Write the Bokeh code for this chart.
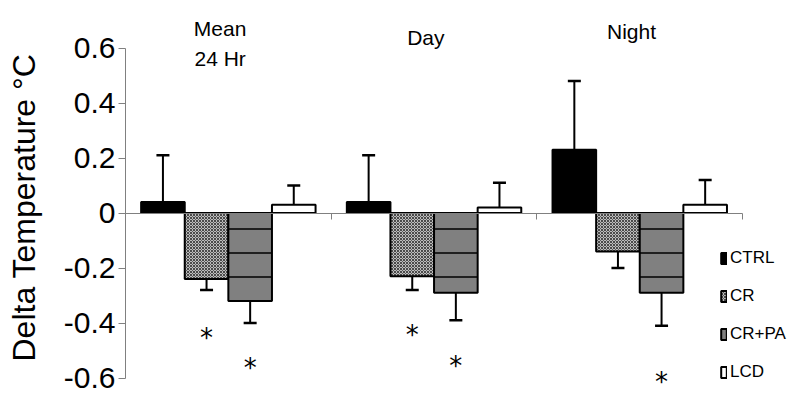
import math
from bokeh.plotting import figure
from bokeh.models import (Range1d, FixedTicker, Legend, LegendItem, Label,
                          LabelSet, ColumnDataSource)
from bokeh.core.properties import value
from bokeh.embed import file_html
from bokeh.resources import INLINE

# ---------------- data ----------------
groups = ["Mean\n24 Hr", "Day", "Night"]
series = ["CTRL", "CR", "CR+PA", "LCD"]
ctrl = [0.04, 0.04, 0.23]
ctrl_err = [0.17, 0.17, 0.25]
cr = [-0.24, -0.23, -0.14]
cr_err = [0.04, 0.05, 0.06]
crpa = [-0.32, -0.29, -0.29]
crpa_err = [0.08, 0.10, 0.12]
lcd = [0.03, 0.02, 0.03]
lcd_err = [0.07, 0.09, 0.09]
# significance markers: group index, series index, vertical position
sig_group = [0, 0, 1, 1, 2]
sig_series = [1, 2, 1, 2, 2]
sig_y = [-0.455, -0.565, -0.445, -0.555, -0.615]
y_ticks = [-0.6, -0.4, -0.2, 0, 0.2, 0.4, 0.6]
y_tick_labels = ["-0.6", "-0.4", "-0.2", "0", "0.2", "0.4", "0.6"]
y_title = "Delta Temperature \u00b0C"

FONT = "Liberation Sans"
W, H = 789, 401
X0_PX, XU = 125.0, 205.7      # screen x of value 0, px per category
Y0_PX, YU = 212.5, 275.0      # screen y of value 0, px per unit

p = figure(width=W, height=H,
           x_range=Range1d(-X0_PX / XU, (W - X0_PX) / XU),
           y_range=Range1d(-(H - Y0_PX) / YU, Y0_PX / YU),
           output_backend="svg", toolbar_location=None, min_border=0)
p.grid.visible = False
p.outline_line_color = None

# y axis at x = 0
ya = p.yaxis[0]
ya.fixed_location = 0
ya.bounds = (y_ticks[0], y_ticks[-1])
ya.ticker = FixedTicker(ticks=y_ticks)
ya.major_label_overrides = {t: l for t, l in zip(y_ticks, y_tick_labels)}
ya.axis_line_color = "#808080"
ya.major_tick_line_color = "#808080"
ya.major_tick_out = 7
ya.major_tick_in = 0
ya.minor_tick_line_color = None
ya.major_label_text_font = FONT
ya.major_label_text_font_size = "30px"
ya.major_label_text_color = "black"
ya.major_label_standoff = 3

# x axis drawn at zero
xa = p.xaxis[0]
xa.fixed_location = 0
xa.bounds = (0, len(groups))
xa.ticker = FixedTicker(ticks=list(range(len(groups) + 1)))
xa.major_label_overrides = {i: "" for i in range(len(groups) + 1)}
xa.axis_line_color = "#808080"
xa.major_tick_line_color = "#808080"
xa.major_tick_out = 6
xa.major_tick_in = 0
xa.minor_tick_line_color = None

# y axis title
p.text(x=[(23 - X0_PX) / XU], y=[(Y0_PX - 207) / YU], text=[y_title],
       angle=math.pi / 2, text_align="center", text_baseline="middle",
       text_font=value(FONT), text_font_size="32px", text_color="black")

bar_w = 0.212
values = [ctrl, cr, crpa, lcd]
errs = [ctrl_err, cr_err, crpa_err, lcd_err]
styles = [
    dict(fill_color="black"),
    dict(fill_color="#bcbcbc", hatch_pattern="diagonal_cross", hatch_scale=3,
         hatch_weight=1, hatch_color="#4a4a4a"),
    dict(fill_color="#808080", hatch_pattern="horizontal_line", hatch_scale=24,
         hatch_weight=1.5, hatch_color="black"),
    dict(fill_color="white"),
]

items = []
xs_all = []
for k, name in enumerate(series):
    xs = [g + 0.5 + (k - 1.5) * bar_w for g in range(len(groups))]
    xs_all.append(xs)
    ends = [v + e if v >= 0 else v - e for v, e in zip(values[k], errs[k])]
    src = ColumnDataSource(dict(x=xs, top=values[k], end=ends))
    p.segment(x0="x", y0="top", x1="x", y1="end", source=src,
              line_color="black", line_width=2)
    p.scatter(x="x", y="end", marker="dash", size=13, line_width=2.5,
              line_color="black", source=src)
    r = p.vbar(x="x", top="top", bottom=0, width=bar_w, source=src,
               line_color="black", line_width=2, **styles[k])
    items.append(LegendItem(label=name, renderers=[r]))

legend = Legend(items=items, location=(720, 19), orientation="vertical",
                glyph_width=7, glyph_height=14, label_height=14, label_standoff=3,
                spacing=18, padding=0, margin=0, border_line_color=None,
                background_fill_alpha=0, label_text_font=FONT,
                label_text_font_size="17px", label_text_color="black")
p.add_layout(legend)

# significance asterisks
sig_src = ColumnDataSource(dict(
    x=[xs_all[s][g] for g, s in zip(sig_group, sig_series)],
    y=sig_y,
    t=["*"] * len(sig_y)))
p.add_layout(LabelSet(x="x", y="y", text="t", source=sig_src,
                      text_align="center", text_baseline="middle",
                      text_font=value("DejaVu Sans"), text_font_size="26px",
                      text_color="black"))

# group titles
title_baseline_px = [28, 37, 31]
for g, name in enumerate(groups):
    for li, line in enumerate(name.split("\n")):
        base = title_baseline_px[g] + 30 * li
        p.add_layout(Label(x=g + 0.46, y=(Y0_PX - base) / YU, text=line,
                           text_align="center", text_baseline="alphabetic",
                           text_font=FONT, text_font_size="21px",
                           text_color="black"))

open("out.html", "w").write(file_html(p, INLINE))
